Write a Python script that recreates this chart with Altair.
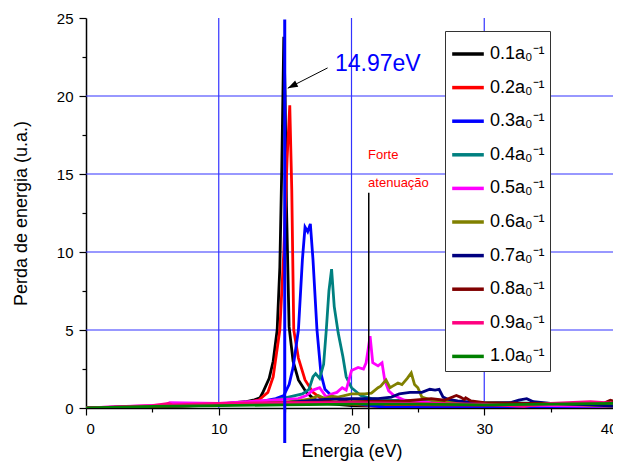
import altair as alt
import pandas as pd

# ---------------- data ----------------
labels = ["0.1a₀⁻¹", "0.2a₀⁻¹", "0.3a₀⁻¹", "0.4a₀⁻¹", "0.5a₀⁻¹",
          "0.6a₀⁻¹", "0.7a₀⁻¹", "0.8a₀⁻¹", "0.9a₀⁻¹", "1.0a₀⁻¹"]
colors = ["#000000", "#ff0000", "#0000ff", "#008080", "#ff00ff",
          "#808000", "#000080", "#800000", "#ff0080", "#008000"]

x_01 = [0, 4, 8, 10, 12, 12.6, 13.1, 13.3, 13.8, 14.1, 14.4, 14.6, 14.75, 14.9, 15.0, 15.1, 15.3, 15.6, 16.0, 16.6, 17.2, 18.0, 20, 25, 32, 40]
y_01 = [0, 0.08, 0.18, 0.25, 0.4, 0.5, 0.65, 0.96, 1.9, 3.0, 5.0, 9.0, 15.5, 23.8, 20.0, 13.0, 5.2, 3.0, 1.8, 1.0, 0.55, 0.3, 0.15, 0.08, 0.05, 0.03]

x_02 = [0, 4, 8, 10, 12, 13.0, 13.7, 14.1, 14.6, 14.9, 15.15, 15.35, 15.5, 15.65, 16.0, 16.5, 17.1, 17.8, 19, 22, 30, 40]
y_02 = [0, 0.07, 0.16, 0.22, 0.35, 0.5, 1.0, 2.0, 5.0, 10.0, 16.0, 19.4, 14.0, 5.0, 3.2, 1.8, 1.0, 0.55, 0.3, 0.12, 0.05, 0.03]

x_03 = [0, 5, 10, 13, 14.3, 14.9, 15.3, 15.6, 16.0, 16.3, 16.5, 16.7, 16.9, 17.1, 17.4, 17.7, 18.0, 18.6, 19.2, 20.0, 21.0, 22.5, 26, 30, 40]
y_03 = [0, 0.1, 0.25, 0.4, 0.6, 0.8, 1.5, 2.6, 5.0, 9.5, 11.6, 11.3, 11.8, 9.5, 5.0, 2.2, 1.2, 0.7, 0.5, 0.35, 0.2, 0.05, 0.02, 0.01, 0.0]

x_04 = [0, 5, 10, 13, 14.5, 15.5, 16.3, 16.8, 17.1, 17.3, 17.6, 17.9, 18.1, 18.3, 18.5, 18.7, 19.0, 19.35, 19.6, 20.0, 20.7, 21.5, 23, 26, 30, 35, 40]
y_04 = [0, 0.1, 0.2, 0.35, 0.55, 0.75, 0.9, 1.2, 2.0, 2.2, 1.9, 2.8, 5.0, 7.5, 8.9, 6.5, 4.8, 3.3, 2.0, 1.3, 0.8, 0.6, 0.5, 0.4, 0.35, 0.3, 0.25]

x_05 = [0, 6, 6.3, 10, 13, 15, 16.0, 16.6, 17.1, 17.6, 18.1, 18.5, 18.9, 19.3, 19.6, 20.0, 20.5, 20.9, 21.1, 21.4, 21.6, 22.0, 22.3, 22.5, 22.8, 23.2, 24, 26, 30, 35, 40]
y_05 = [0, 0.2, 0.35, 0.3, 0.45, 0.55, 0.6, 0.8, 1.15, 1.3, 0.7, 0.9, 1.0, 1.3, 1.15, 2.4, 2.6, 2.5, 2.9, 4.6, 2.9, 2.7, 2.9, 1.8, 1.1, 0.8, 0.5, 0.35, 0.25, 0.15, 0.1]

x_06 = [0, 5, 10, 14, 16, 17.0, 17.5, 18.0, 18.5, 19.0, 20.0, 21.0, 21.5, 22.0, 22.2, 22.6, 22.9, 23.1, 23.5, 23.8, 24.2, 24.5, 24.75, 25.0, 25.3, 26, 28, 32, 36, 40]
y_06 = [0, 0.08, 0.18, 0.3, 0.45, 0.6, 0.8, 0.6, 0.75, 0.7, 0.9, 0.9, 0.95, 1.3, 1.4, 1.8, 1.3, 1.4, 1.6, 1.5, 1.9, 2.25, 1.5, 1.3, 0.7, 0.5, 0.35, 0.3, 0.25, 0.1]

x_07 = [0, 5, 10, 15, 18, 20, 22, 23.0, 23.6, 24.4, 25.3, 25.9, 26.3, 26.6, 26.9, 27.3, 28, 30, 32, 32.6, 33.2, 33.7, 35, 38, 40]
y_07 = [0, 0.08, 0.18, 0.35, 0.55, 0.6, 0.6, 0.7, 0.9, 1.0, 1.0, 1.2, 1.15, 1.2, 0.7, 0.55, 0.45, 0.3, 0.35, 0.5, 0.6, 0.4, 0.3, 0.2, 0.1]

x_08 = [0, 5, 10, 15, 20, 24, 26, 27, 27.9, 28.2, 28.5, 28.6, 29, 30, 33, 36, 39, 39.5, 40]
y_08 = [0, 0.08, 0.2, 0.35, 0.4, 0.45, 0.6, 0.5, 0.8, 0.7, 0.55, 0.65, 0.45, 0.35, 0.3, 0.3, 0.3, 0.5, 0.4]

x_09 = [0, 5, 6.2, 6.5, 10, 15, 20, 25, 30, 33, 35, 38, 40]
y_09 = [0, 0.15, 0.3, 0.2, 0.3, 0.35, 0.35, 0.3, 0.25, 0.1, 0.3, 0.4, 0.3]

x_10 = [0, 5, 10, 15, 20, 25, 30, 35, 40]
y_10 = [0, 0.1, 0.15, 0.2, 0.25, 0.25, 0.2, 0.25, 0.3]

xs = [x_01, x_02, x_03, x_04, x_05, x_06, x_07, x_08, x_09, x_10]
ys = [y_01, y_02, y_03, y_04, y_05, y_06, y_07, y_08, y_09, y_10]

x_major = [0, 10, 20, 30, 40]
x_minor = [5, 15, 25, 35]
y_major = [0, 5, 10, 15, 20, 25]
y_minor = [2.5, 7.5, 12.5, 17.5, 22.5]
grid_x = [10, 20, 30]
grid_y = [5, 10, 15, 20]
y_range = [0, 25]
x_range = [0, 40]

plasmon_x = 14.97
plasmon_label = "14.97eV"
plasmon_y = [24.9, -2.25]
arrow_start = (18.2, 21.8)
arrow_end = (15.2, 20.5)
label_pos = (18.75, 22.05)

atten_x = 21.3
atten_y = [13.8, -1.3]
atten_lines = ["Forte", "atenuação"]
atten_text_x = 21.25
atten_text_y = [16.2, 14.4]

# ---------------- build ----------------
rows = []
for i, (lab, xv, yv) in enumerate(zip(labels, xs, ys)):
    for a, b in zip(xv, yv):
        rows.append({"series": lab, "order": i, "x": a, "y": b})
df = pd.DataFrame(rows)

FONT = "Liberation Sans"
GRID = "#3333ff"
xscale = alt.Scale(domain=x_range, nice=False, zero=False)
yscale = alt.Scale(domain=y_range, nice=False, zero=False)


def X(field):
    return alt.X(field, scale=xscale, axis=None)


def Y(field):
    return alt.Y(field, scale=yscale, axis=None)


gx_df = pd.DataFrame({"x": grid_x, "y": [y_range[0]] * len(grid_x), "y2": [y_range[1]] * len(grid_x)})
gridx = alt.Chart(gx_df).mark_rule(color=GRID, strokeWidth=1.2).encode(
    x=alt.X("x:Q", scale=xscale, axis=alt.Axis(values=x_minor, labels=False, tickSize=4, domain=False,
                                                 grid=False, title=None, orient="bottom", tickColor="black",
                                                 tickWidth=1.2)),
    y=Y("y:Q"), y2="y2:Q")
gy_df = pd.DataFrame({"y": grid_y, "x": [x_range[0]] * len(grid_y), "x2": [x_range[1]] * len(grid_y)})
gridy = alt.Chart(gy_df).mark_rule(color=GRID, strokeWidth=1.2).encode(
    y=alt.Y("y:Q", scale=yscale, axis=alt.Axis(values=y_minor, labels=False, tickSize=4, domain=False,
                                                 grid=False, title=None, orient="left", tickColor="black",
                                                 tickWidth=1.2)),
    x=X("x:Q"), x2="x2:Q")

lines = alt.Chart(df).mark_line(strokeWidth=2.8, clip=True).encode(
    x=alt.X("x:Q", scale=xscale,
            axis=alt.Axis(values=x_major, title="Energia (eV)", grid=False, tickSize=7, tickWidth=1.2,
                          domainColor="black", domainWidth=1.5, tickColor="black",
                          labelFont=FONT, labelFontSize=15, labelColor="black", labelPadding=6,
                          titleFont=FONT, titleFontSize=18, titleFontWeight="normal", titleColor="black",
                          titlePadding=6, orient="bottom", format="d")),
    y=alt.Y("y:Q", scale=yscale,
            axis=alt.Axis(values=y_major, title="Perda de energia (u.a.)", grid=False, tickSize=7, tickWidth=1.2,
                          domainColor="black", domainWidth=1.5, tickColor="black",
                          labelFont=FONT, labelFontSize=15, labelColor="black", labelPadding=6,
                          titleFont=FONT, titleFontSize=18, titleFontWeight="normal", titleColor="black",
                          titlePadding=26, orient="left", format="d")),
    color=alt.Color("series:N", sort=labels,
                    scale=alt.Scale(domain=labels, range=colors),
                    legend=alt.Legend(orient="none", legendX=359, legendY=13, title=None,
                                      fillColor="white", strokeColor="#333333", padding=5,
                                      symbolType="stroke", symbolSize=1000, symbolStrokeWidth=3.5,
                                      labelFont=FONT, labelFontSize=18, labelColor="black",
                                      rowPadding=6.6, labelOffset=4, labelLimit=200)),
    order=alt.Order("order:Q"),
    detail="series:N",
)

vline = alt.Chart(pd.DataFrame({"x": [plasmon_x], "y": [plasmon_y[0]], "y2": [plasmon_y[1]]})).mark_rule(
    color="#0000ff", strokeWidth=3).encode(x=X("x:Q"), y=Y("y:Q"), y2="y2:Q")

aline = alt.Chart(pd.DataFrame({"x": [atten_x], "y": [atten_y[0]], "y2": [atten_y[1]]})).mark_rule(
    color="black", strokeWidth=1.5).encode(x=X("x:Q"), y=Y("y:Q"), y2="y2:Q")

arrow_df = pd.DataFrame({"x": [arrow_start[0]], "y": [arrow_start[1]],
                         "x2": [arrow_end[0]], "y2": [arrow_end[1]]})
arrow = alt.Chart(arrow_df).mark_rule(color="black", strokeWidth=1).encode(
    x=X("x:Q"), y=Y("y:Q"), x2="x2:Q", y2="y2:Q")
head = alt.Chart(pd.DataFrame({"x": [arrow_end[0]], "y": [arrow_end[1]]})).mark_point(
    shape="M0,0 L-0.35,1 L0.35,1 Z", filled=True, size=400, angle=243.4, color="black", opacity=1).encode(
    x=X("x:Q"), y=Y("y:Q"))

plabel = alt.Chart(pd.DataFrame({"x": [label_pos[0]], "y": [label_pos[1]], "t": [plasmon_label]})).mark_text(
    align="left", baseline="middle", font=FONT, fontSize=23, color="#0000ff").encode(
    x=X("x:Q"), y=Y("y:Q"), text="t:N")

alabel = alt.Chart(pd.DataFrame({"x": [atten_text_x] * 2, "y": atten_text_y, "t": atten_lines})).mark_text(
    align="left", baseline="middle", font=FONT, fontSize=13, color="#ff0000").encode(
    x=X("x:Q"), y=Y("y:Q"), text="t:N")

chart = alt.layer(gridx, gridy, lines, aline, arrow, head, plabel, alabel, vline).resolve_axis(
    x="independent", y="independent"
).properties(
    width=531, height=390,
    autosize=alt.AutoSizeParams(type="none"),
    padding={"left": 78, "top": 10, "right": -4, "bottom": 54},
    background="white",
).configure_view(stroke=None)

chart.save("out.html", embed_options={"renderer": "svg", "actions": False})
